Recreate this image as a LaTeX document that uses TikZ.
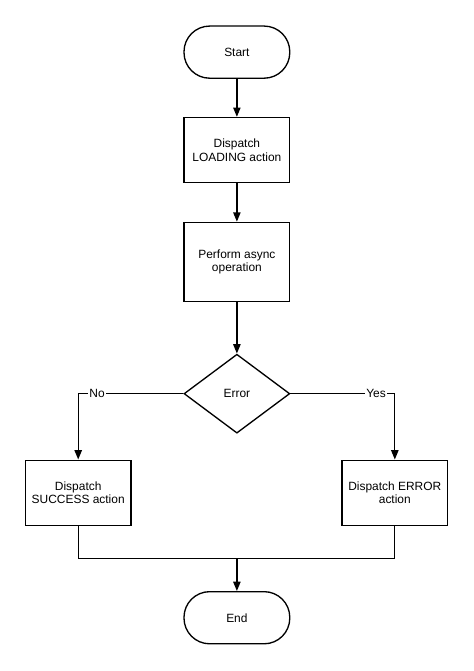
\documentclass[tikz,border=0pt]{standalone}
\usepackage{fontspec}
\setmainfont{Liberation Sans}
\usetikzlibrary{shapes.geometric,arrows.meta,positioning}

\begin{document}
\begin{tikzpicture}[
    node distance=2.5cm,
    startstop/.style={rectangle, rounded corners=0.68cm, minimum width=2.8cm, minimum height=1.38cm, text centered, draw=black, line width=1pt, font=\fontsize{9}{10.3}\selectfont},
    process/.style={rectangle, minimum width=2.8cm, minimum height=1.72cm, align=center, draw=black, line width=1pt, font=\fontsize{9}{10.3}\selectfont},
    decision/.style={diamond, minimum width=2.8cm, minimum height=2.09cm, aspect=1.34, inner sep=0pt, text centered, draw=black, line width=1pt, font=\fontsize{9}{10.3}\selectfont},
    line/.style={line width=1pt},
    arrow/.style={line width=1pt,-{Triangle[length=7pt,width=5.5pt]}},
    tag/.style={fill=white, inner sep=1pt, font=\fontsize{9}{10.3}\selectfont}
]
\useasboundingbox (-6.27,1.38) rectangle (6.27,-16.38);

% Nodes
\node (start) [startstop] {Start};
\node (loading) [process, below of=start, yshift=-0.09cm] {Dispatch\\LOADING action};
\node (async) [process, below of=loading, yshift=-0.46cm, minimum height=2.09cm] {Perform async\\operation};
\node (check) [decision, below of=async, yshift=-0.99cm] {Error};
\node (success) [process, below of=check, yshift=-0.12cm, xshift=-4.2cm] {Dispatch\\SUCCESS action};
\node (failure) [process, below of=check, yshift=-0.12cm, xshift=4.18cm] {Dispatch ERROR\\action};
\node (finish) [startstop, below of=check, yshift=-3.43cm] {End};
\coordinate [above of=finish, node distance=1.56cm] (merge);

% Arrows
\draw [arrow] (start) -- (loading);
\draw [arrow] (loading) -- (async);
\draw [arrow] (async) -- (check);
\draw [arrow] (check.west) -| node[tag, pos=0.41] {No} (success.north);
\draw [arrow] (check.east) -| node[tag, pos=0.41] {Yes} (failure.north);
\draw [line] (success.south) |- (merge) -| (failure.south);
\draw [arrow] (merge) -- (finish);

\end{tikzpicture}
\end{document}
